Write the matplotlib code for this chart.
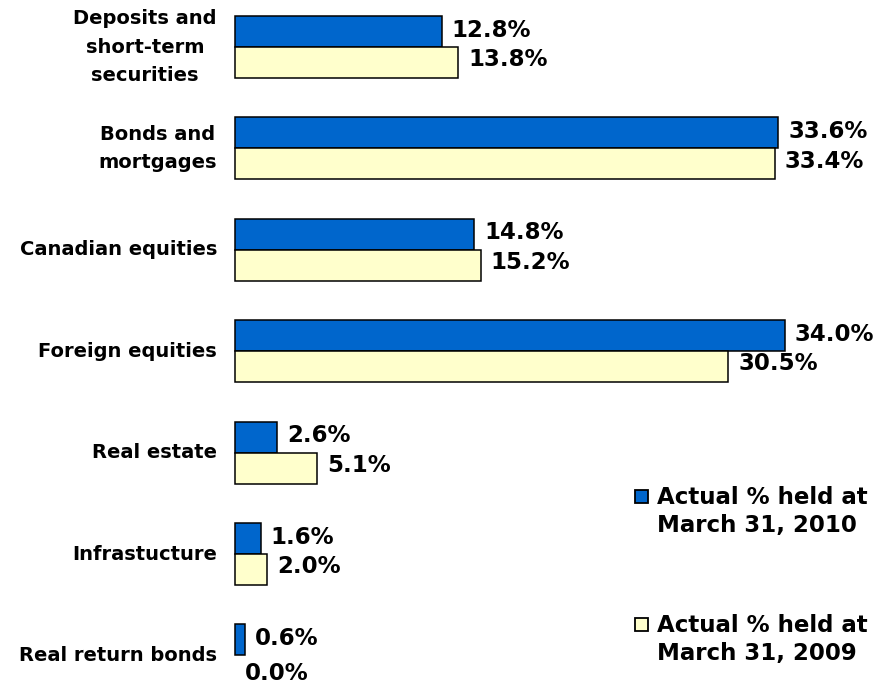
import matplotlib
matplotlib.use("Agg")
import matplotlib.pyplot as plt
from matplotlib.patches import Rectangle
import numpy as np

categories = ["Deposits and\nshort-term\nsecurities", "Bonds and\nmortgages",
              "Canadian equities", "Foreign equities", "Real estate",
              "Infrastucture", "Real return bonds"]
held_2010 = [12.8, 33.6, 14.8, 34.0, 2.6, 1.6, 0.6]
held_2009 = [13.8, 33.4, 15.2, 30.5, 5.1, 2.0, 0.0]
series_labels = ["Actual % held at\nMarch 31, 2010", "Actual % held at\nMarch 31, 2009"]

BLUE = "#0066CC"
CREAM = "#FFFFCC"
plt.rcParams["font.family"] = ["DejaVu Sans"]
plt.rcParams["font.weight"] = "bold"

fig = plt.figure(figsize=(8.82, 6.88), dpi=100)
ax = fig.add_axes([235 / 882, 0, 647 / 882, 1])
ax.patch.set_alpha(0)

y = np.arange(len(categories))
h = 0.306
for off, vals, col in [(-h / 2, held_2010, BLUE), (h / 2, held_2009, CREAM)]:
    bars = ax.barh(y + off, vals, height=h, color=col, edgecolor="black", lw=1.1)
    for b, v in zip(bars, vals):
        b.set_clip_on(False)
        if v == 0:
            b.set_linewidth(0)

for yi, v in zip(y, held_2010):
    ax.annotate(f"{v:.1f}%", (v, yi - h / 2), xytext=(7, 1), textcoords="offset points",
                va="center", ha="left", fontsize=16.5, fontweight="bold")
for yi, v in zip(y, held_2009):
    dy = -2 if v == 0 else 2
    ax.annotate(f"{v:.1f}%", (v, yi + h / 2), xytext=(7, dy), textcoords="offset points",
                va="center", ha="left", fontsize=16.5, fontweight="bold")

ax.set_xlim(0, 40)
ax.set_ylim(6.321, -0.4635)
ax.set_yticks(y, categories, fontsize=14, fontweight="bold")
for t in ax.get_yticklabels():
    t.set_multialignment("center")
    t.set_linespacing(1.62)
    t.set_verticalalignment("center")
ax.tick_params(axis="y", length=0, pad=13)
ax.set_xticks([])
for s in ax.spines.values():
    s.set_visible(False)

# legend drawn by hand to keep the wide gap between the two entries
for (top, col, lab) in [(483, BLUE, series_labels[0]), (611, CREAM, series_labels[1])]:
    fig.add_artist(Rectangle((635 / 882, 1 - (top + 20) / 688), 13 / 882, 13 / 688,
                             transform=fig.transFigure, facecolor=col,
                             edgecolor="black", lw=1.3))
    fig.text(657 / 882, 1 - (top + 3) / 688, lab, va="top", ha="left", fontsize=16.5,
             fontweight="bold", linespacing=1.3)

fig.savefig("out.png", dpi=100)
